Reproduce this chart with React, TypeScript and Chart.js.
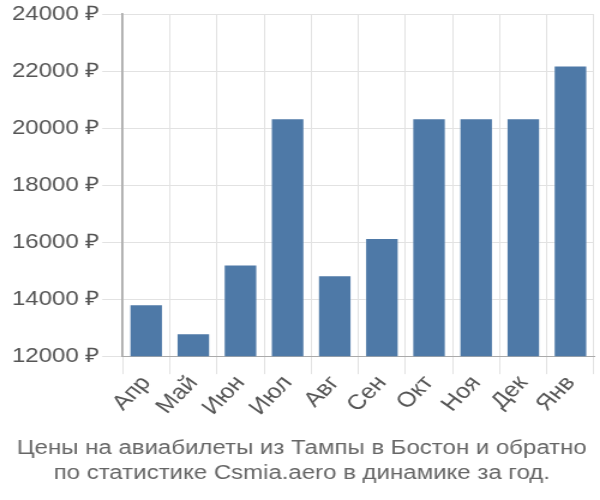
import React, { useEffect, useRef } from "react";
import { Chart, registerables } from "chart.js";

Chart.register(...registerables);

const months = ["Апр", "Май", "Июн", "Июл", "Авг", "Сен", "Окт", "Ноя", "Дек", "Янв"];
const prices = [13820, 12800, 15210, 20340, 14840, 16140, 20340, 20340, 20340, 22190];
const yMin = 12000;
const yMax = 24000;
const yStep = 2000;
const titleLines = [
  "Цены на авиабилеты из Тампы в Бостон и обратно",
  "по статистике Csmia.aero в динамике за год.",
];

export default function App() {
  const ref = useRef<HTMLCanvasElement | null>(null);
  useEffect(() => {
    if (!ref.current) return;
    const font = "'Liberation Sans', Arial, sans-serif";
    const chart = new Chart(ref.current, {
      type: "bar",
      data: {
        labels: months,
        datasets: [
          {
            data: prices,
            backgroundColor: "#4e79a7",
            borderColor: "rgba(255,255,255,0.35)",
            borderWidth: 1,
            barPercentage: 0.72,
            categoryPercentage: 1,
          },
        ],
      },
      options: {
        animation: false,
        responsive: false,
        maintainAspectRatio: false,
        layout: { padding: { left: 8, right: 5, top: 4, bottom: 4 } },
        plugins: {
          legend: { display: false },
          tooltip: { enabled: false },
          title: {
            display: true,
            position: "bottom",
            text: titleLines,
            color: "#666",
            font: { family: font, size: 20, weight: "normal", lineHeight: 1.25 },
            padding: { top: 19, bottom: 10 },
          },
        },
        scales: {
          x: {
            grid: { color: "#e2e2e2", tickLength: 18, offset: true },
            border: { color: "#aaa" },
            ticks: {
              color: "#555",
              font: { family: font, size: 21 },
              maxRotation: 50,
              minRotation: 50,
              padding: -3,
            },
          },
          y: {
            min: yMin,
            max: yMax,
            grid: { color: "#e2e2e2", tickLength: 17 },
            border: { color: "#aaa", width: 1.7 },
            ticks: {
              stepSize: yStep,
              color: "#555",
              font: { family: font, size: 20 },
              padding: 2,
              callback: (v: any) => `${v} ₽`,
            },
          },
        },
      },
    });
    return () => chart.destroy();
  }, []);
  return (
    <div style={{ position: "fixed", left: 0, top: 0, width: 600, height: 500, background: "#fff" }}>
      <canvas
        ref={ref}
        width={500}
        height={500}
        style={{ width: "600px", height: "500px", display: "block" }}
      />
    </div>
  );
}
